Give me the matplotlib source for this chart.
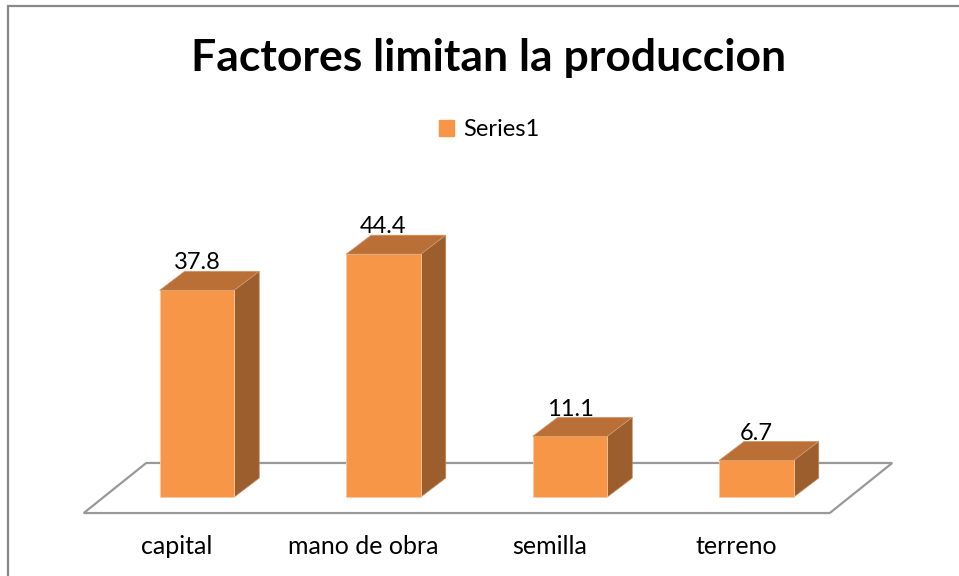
import matplotlib
matplotlib.use("Agg")
import matplotlib.pyplot as plt
from matplotlib.patches import Polygon, Rectangle, Patch

plt.rcParams['font.family'] = ['Lato', 'DejaVu Sans']

# data
categories = ["capital", "mano de obra", "semilla", "terreno"]
values = [37.8, 44.4, 11.1, 6.7]
series_name = "Series1"
title = "Factores limitan la produccion"

# colours
c_front = "#F79646"
c_top = "#B96F35"
c_side = "#9C5E2C"
c_floor = "#999999"

fig = plt.figure(figsize=(9.59, 5.76), dpi=100)
ax = fig.add_axes([0, 0, 1, 1])
ax.set_xlim(-1.056, 4.086)
ax.set_ylim(-14.44, 90.86)
ax.axis("off")

w = 0.4          # bar width
dx, dy = 0.134, 3.47   # bar depth offset
x = list(range(len(values)))

# floor (3d base plane)
fl_front = (-0.107, -2.93)
fl_back = (0.228, 6.22)
x0, x1 = -0.5, len(values) - 0.5
floor = Polygon([(x0 + fl_front[0], fl_front[1]), (x1 + fl_front[0], fl_front[1]),
                 (x1 + fl_back[0], fl_back[1]), (x0 + fl_back[0], fl_back[1])],
                closed=True, facecolor="white", edgecolor=c_floor, lw=1.6, zorder=1)
ax.add_patch(floor)

# bars: front face via ax.bar, then side and top faces
bars = ax.bar(x, values, width=w, color=c_front, edgecolor="#FBC9A3", lw=0.6, zorder=3)
for xi, v in zip(x, values):
    r = xi + w / 2
    l = xi - w / 2
    side = Polygon([(r, 0), (r + dx, dy), (r + dx, v + dy), (r, v)],
                   closed=True, facecolor=c_side, edgecolor="#C08A60", lw=0.5, zorder=2)
    top = Polygon([(l, v), (l + dx, v + dy), (r + dx, v + dy), (r, v)],
                  closed=True, facecolor=c_top, edgecolor="#D09A70", lw=0.5, zorder=4)
    ax.add_patch(side)
    ax.add_patch(top)
    ax.text(xi, v + dy - 0.4, f"{v}", ha="center", va="bottom", fontsize=17, color="black", zorder=5)

# category labels (on the front edge of the floor)
for xi, cat in zip(x, categories):
    ax.text(xi + fl_front[0], -9.0, cat, ha="center", va="center", fontsize=18, color="black")

# title and legend
fig.text(0.509, 0.90, title, ha="center", va="center", fontsize=32, fontweight="bold")
ax.legend(handles=[Patch(color=c_front, label=series_name)], loc="center",
          bbox_to_anchor=(0.51, 0.775), frameon=False, fontsize=17,
          handlelength=0.65, handleheight=0.65, handletextpad=0.4)

# chart border (left and top visible)
fig.patches.append(Rectangle((8 / 959, -0.05), 1.1, 1 - 6 / 576 + 0.05, transform=fig.transFigure,
                             fill=False, edgecolor="#888888", lw=1.6))

fig.savefig("out.png", dpi=100)
